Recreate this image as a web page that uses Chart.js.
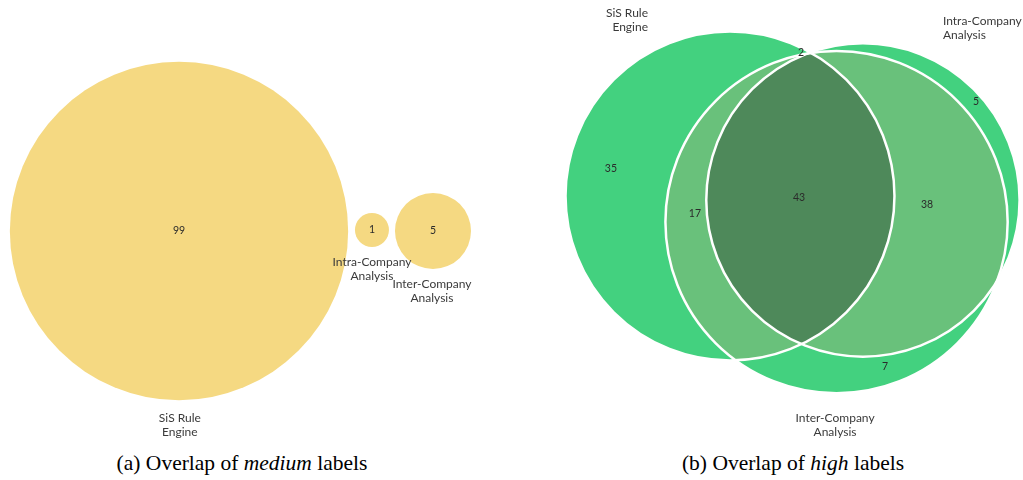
<!DOCTYPE html>
<html>
<head>
<meta charset="utf-8">
<script src="https://cdn.jsdelivr.net/npm/chart.js@4.4.1/dist/chart.umd.min.js"></script>
<style>
  body { margin: 0; background: #fff; }
  #wrap { position: relative; width: 1023px; height: 480px; overflow: hidden; }
  canvas { position: absolute; top: 0; }
  #vennMedium { left: 0; }
  #vennHigh { left: 520px; }
  .cap {
    position: absolute; top: 451px;
    font-family: "Liberation Serif", "Times New Roman", serif;
    font-size: 21.5px; color: #000; white-space: nowrap;
    transform: translateX(-50%);
  }
</style>
</head>
<body>
<div id="wrap">
  <canvas id="vennMedium" width="520" height="445"></canvas>
  <canvas id="vennHigh" width="503" height="445"></canvas>
  <div class="cap" style="left:242px">(a) Overlap of <i>medium</i> labels</div>
  <div class="cap" style="left:793px">(b) Overlap of <i>high</i> labels</div>
</div>
<script>
// set names (same three sources in both diagrams)
const setNames = ['SiS Rule\nEngine', 'Intra-Company\nAnalysis', 'Inter-Company\nAnalysis'];

// medium labels: the sets don't overlap at all
const mediumCounts = [99, 1, 5];

// high labels: region key = membership in (SiS, Intra, Inter)
const highRegions = ['100', '010', '001', '110', '101', '011', '111'];
const highCounts  = [35, 5, 7, 2, 17, 38, 43];

// circle area ~ count, so radius = sqrt(count) in layout units
function setTotal(regions, counts, i) {
  let s = 0;
  regions.forEach((k, j) => { if (k[i] === '1') s += counts[j]; });
  return s;
}

const LABEL_FONT = '"Lato", "DejaVu Sans", sans-serif';
const YELLOW = '#f5d982';
const GREEN = '#43d17f', GREEN_LIGHT = '#69c17b', GREEN_DARK = '#4e895a';

// diagram layout, in layout units (1 unit = ppu pixels)
const mediumLayout = {
  ppu: 17, origin: [179, 231], size: [520, 445],
  centers: [[0, 0], [11.35, 0.06], [14.94, 0]],
  countPos: [[0, 0], [11.35, 0.06], [14.94, 0]],
  namePos: [[0.05, -11.0], [11.35, -1.82], [14.88, -3.12]],
  nameAlign: ['center', 'center', 'center']
};
const highLayout = {
  ppu: 16.7, origin: [210, 196], size: [503, 445],
  centers: [[0, 0], [7.96, -0.24], [6.38, -1.56]],
  countPos: [[-7.13, 1.62], [14.73, 5.63], [9.28, -10.24], [4.25, 8.56],
             [-2.10, -1.08], [11.80, -0.54], [4.13, -0.12]],
  namePos: [[-4.91, 10.96], [12.75, 10.48], [6.29, -13.29]],
  nameAlign: ['right', 'left', 'center']
};

function scalesFor(L) {
  const [ox, oy] = L.origin, [w, h] = L.size;
  return {
    x: { type: 'linear', display: false, min: -ox / L.ppu, max: (w - ox) / L.ppu },
    y: { type: 'linear', display: false, min: -(h - oy) / L.ppu, max: oy / L.ppu }
  };
}

// point radius in pixels from the x scale
function radiusFromScale(c) {
  const sx = c.chart.scales.x;
  return sx.getPixelForValue(Math.sqrt(c.raw.n)) - sx.getPixelForValue(0);
}

function circleDataset(L, totals, fill, border, width, order) {
  return {
    data: L.centers.map((p, i) => ({ x: p[0], y: p[1], n: totals[i] })),
    showLine: false,
    order: order,
    pointRadius: radiusFromScale,
    pointHoverRadius: radiusFromScale,
    pointBackgroundColor: fill,
    pointBorderColor: border,
    pointBorderWidth: width
  };
}

function circle(ctx, el) {
  ctx.beginPath();
  ctx.arc(el.x, el.y, el.options.radius, 0, Math.PI * 2);
}

// fills the overlaps of the high diagram before the white outlines go on top
const overlapFill = {
  id: 'overlapFill',
  beforeDatasetDraw(chart, args, opts) {
    if (!opts.enabled || args.index !== 1) return;
    const [a, b, c] = chart.getDatasetMeta(0).data;
    const ctx = chart.ctx;
    ctx.save();
    circle(ctx, c); ctx.clip();
    ctx.fillStyle = GREEN_LIGHT;
    circle(ctx, a); ctx.fill();
    circle(ctx, b); ctx.fill();
    circle(ctx, a); ctx.clip();
    ctx.fillStyle = GREEN_DARK;
    circle(ctx, b); ctx.fill();
    ctx.restore();
  }
};

// region counts and set names
const vennText = {
  id: 'vennText',
  afterDatasetsDraw(chart, args, opts) {
    const ctx = chart.ctx, sx = chart.scales.x, sy = chart.scales.y;
    const L = opts.layout;
    ctx.save();
    ctx.textBaseline = 'middle';
    ctx.fillStyle = '#2b2b2b';
    ctx.font = '10.5px ' + LABEL_FONT;
    ctx.textAlign = 'center';
    opts.counts.forEach((v, i) => {
      const p = L.countPos[i];
      ctx.fillText(String(v), sx.getPixelForValue(p[0]), sy.getPixelForValue(p[1]));
    });
    ctx.fillStyle = '#3a3a3a';
    ctx.font = '12px ' + LABEL_FONT;
    setNames.forEach((name, i) => {
      const p = L.namePos[i];
      const x = sx.getPixelForValue(p[0]), y = sy.getPixelForValue(p[1]);
      ctx.textAlign = L.nameAlign[i];
      name.split('\n').forEach((line, k) => ctx.fillText(line, x, y + k * 14.5));
    });
    ctx.restore();
  }
};

const baseOptions = (L, counts, overlaps) => ({
  responsive: false,
  animation: false,
  events: [],
  layout: { padding: 0 },
  scales: scalesFor(L),
  plugins: {
    legend: { display: false },
    tooltip: { enabled: false },
    overlapFill: { enabled: overlaps },
    vennText: { layout: L, counts: counts }
  }
});

new Chart(document.getElementById('vennMedium'), {
  type: 'scatter',
  data: {
    datasets: [circleDataset(mediumLayout, mediumCounts, YELLOW, YELLOW, 0, 1)]
  },
  options: baseOptions(mediumLayout, mediumCounts, false),
  plugins: [overlapFill, vennText]
});

const highTotals = [0, 1, 2].map(i => setTotal(highRegions, highCounts, i));
new Chart(document.getElementById('vennHigh'), {
  type: 'scatter',
  data: {
    datasets: [
      circleDataset(highLayout, highTotals, GREEN, GREEN, 0, 2),
      circleDataset(highLayout, highTotals, 'rgba(0,0,0,0)', '#ffffff', 2.5, 1)
    ]
  },
  options: baseOptions(highLayout, highCounts, true),
  plugins: [overlapFill, vennText]
});
</script>
</body>
</html>
